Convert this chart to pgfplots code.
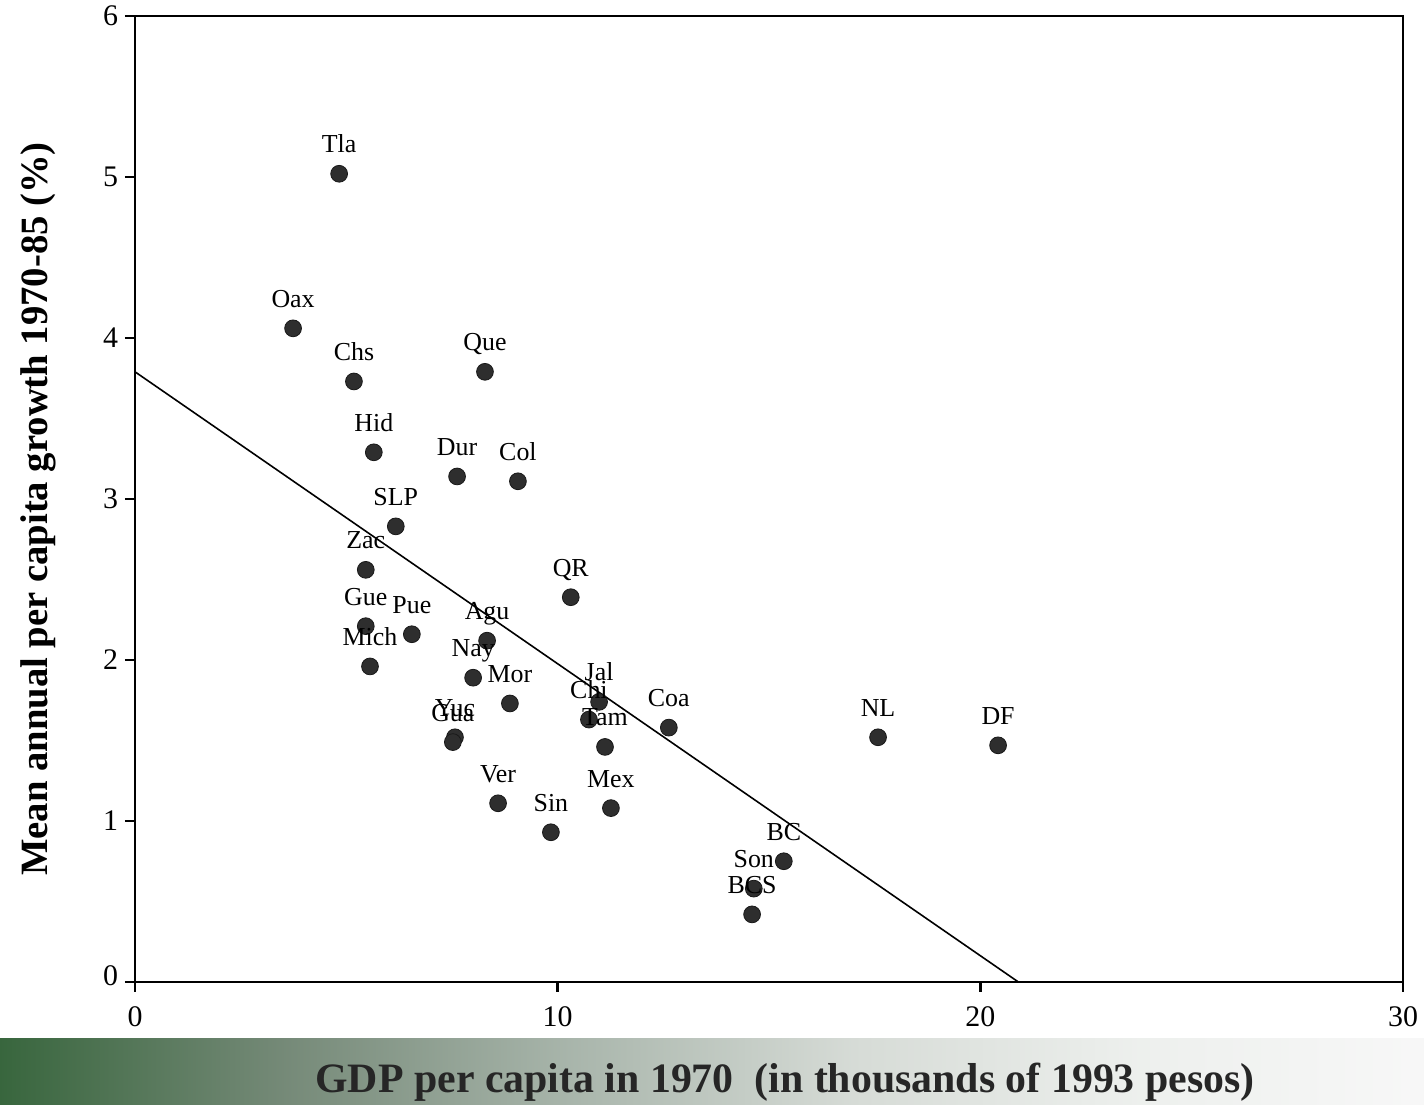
\documentclass[border=0pt]{standalone}
\usepackage{fontspec}
\setmainfont{Liberation Serif}
\usepackage{pgfplots}
\usepackage{pgfplotstable}
\pgfplotsset{compat=1.18}
\pgfdeclarehorizontalshading{band}{100bp}{rgb(0bp)=(0.22,0.40,0.24); rgb(25bp)=(0.22,0.40,0.24); rgb(35bp)=(0.46,0.54,0.47); rgb(45bp)=(0.66,0.71,0.67); rgb(55bp)=(0.84,0.86,0.84); rgb(65bp)=(0.93,0.94,0.93); rgb(75bp)=(0.97,0.97,0.97); rgb(100bp)=(0.97,0.97,0.97)}

\pgfplotstableread{
x y label
4.83 5.02 Tla
3.74 4.06 Oax
5.18 3.73 Chs
8.28 3.79 Que
5.65 3.29 Hid
7.62 3.14 Dur
9.06 3.11 Col
6.17 2.83 SLP
5.46 2.56 Zac
10.31 2.39 QR
5.46 2.21 Gue
6.55 2.16 Pue
8.33 2.12 Agu
5.56 1.96 Mich
8.00 1.89 Nay
8.87 1.73 Mor
10.98 1.74 Jal
10.74 1.63 Chi
11.12 1.46 Tam
12.63 1.58 Coa
7.57 1.52 Yuc
7.52 1.49 Gua
8.59 1.11 Ver
9.84 0.93 Sin
11.26 1.08 Mex
15.35 0.75 BC
14.64 0.58 Son
14.60 0.42 BCS
17.58 1.52 NL
20.42 1.47 DF
}\states

\begin{document}
\begin{tikzpicture}
\useasboundingbox (0bp,0bp) rectangle (712bp,552.5bp);
\shade[shading=band] (0bp,0bp) rectangle (712bp,33bp);
\node[font=\fontsize{21}{24}\selectfont\bfseries, text=black!85] at (392.5bp,11.5bp) {GDP per capita in 1970\ \ (in thousands of 1993 pesos)};
\node[font=\fontsize{19.4}{22}\selectfont\bfseries, rotate=90] at (19bp,298bp) {Mean annual per capita growth 1970-85 (\%)};
\begin{axis}[
  at={(67.5bp,61.5bp)}, anchor=south west,
  scale only axis, width=634bp, height=483bp,
  xmin=0, xmax=30, ymin=0, ymax=6,
  xtick={0,10,20,30}, ytick={0,1,2,3,4,5,6},
  yticklabels={\raisebox{6.5bp}{0},1,2,3,4,5,6},
  tick align=outside, major tick length=5bp,
  xtick pos=bottom, ytick pos=left,
  tick style={line width=1.2bp, black},
  axis line style={line width=1.1bp},
  ticklabel style={font=\fontsize{15}{17}\selectfont},
  xticklabel style={yshift=-4bp},
  /pgf/number format/assume math mode=true,
  clip=false,
]
\addplot[black, line width=0.8bp] coordinates {(0,3.79) (20.9,0)};
\addplot[only marks, mark=*, mark size=4.2bp, mark options={fill=black!82, draw=black!90, line width=0.4bp},
  nodes near coords, point meta=explicit symbolic,
  every node near coord/.style={anchor=base, yshift=10.5bp, font=\fontsize{13}{15}\selectfont, text=black, inner sep=0pt}]
  table[x=x, y=y, meta=label] {\states};
\end{axis}
\end{tikzpicture}
\end{document}
